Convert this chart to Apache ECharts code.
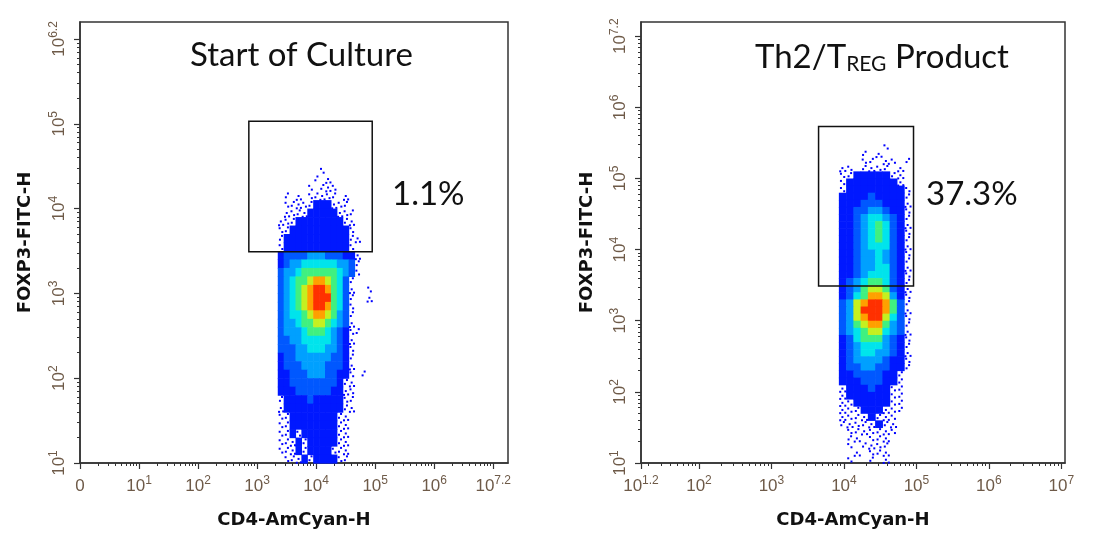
<!DOCTYPE html>
<html>
<head>
<meta charset="utf-8">
<script src="https://cdn.jsdelivr.net/npm/echarts@6/dist/echarts.min.js"></script>
<style>
  html, body { margin: 0; background: #fff; }
  #chart { width: 1105px; height: 534px; }
</style>
</head>
<body>
<div id="chart"></div>
<script>
// axis ticks, in log10 units (decades)
var leftXTicks = [0, 1, 2, 3, 4, 5, 6, 7];
var leftXLabels = [['0', ''], ['10', '1'], ['10', '2'], ['10', '3'], ['10', '4'], ['10', '5'], ['10', '6'], ['10', '7.2']];
var leftYTicks = [1, 2, 3, 4, 5, 6];
var leftYLabels = [['10', '1'], ['10', '2'], ['10', '3'], ['10', '4'], ['10', '5'], ['10', '6.2']];
var rightXTicks = [1.2, 2, 3, 4, 5, 6, 7];
var rightXLabels = [['10', '1.2'], ['10', '2'], ['10', '3'], ['10', '4'], ['10', '5'], ['10', '6'], ['10', '7']];
var rightYTicks = [1, 2, 3, 4, 5, 6, 7];
var rightYLabels = [['10', '1'], ['10', '2'], ['10', '3'], ['10', '4'], ['10', '5'], ['10', '6'], ['10', '7.2']];

// gates: [x1, y1, x2, y2] in decades
var leftGate = [2.86, 3.49, 4.95, 5.03];
var rightGate = [3.65, 3.49, 4.96, 5.73];
var leftPct = '1.1%';
var rightPct = '37.3%';

// density, 0 = empty, 1 = sparse ... 9 = peak
// one string per 0.1 decade of FOXP3 (top row first), one char per 0.1 decade of CD4
var STEP = 0.1;
var leftX0 = 3.35, leftYTop = 4.4;
var leftCloud = [
  '0000000100000000',
  '0000001010000000',
  '0000010111000000',
  '0101011111010000',
  '0111112221110000',
  '0111122222111000',
  '1112222222211000',
  '1122222222221000',
  '1222222222221100',
  '1222222222221000',
  '2333344433322100',
  '2344555555443100',
  '3445666666543100',
  '3456678876531000',
  '3456789986531001',
  '3456789996531001',
  '3456789986531000',
  '3455678876431000',
  '3445667765431000',
  '3444566654321100',
  '3344555554321000',
  '3334455544321000',
  '2334444443321000',
  '2333444433321000',
  '2233344433221010',
  '2233333333211000',
  '2223333332211000',
  '1222232222211000',
  '1222222222211000',
  '1122222222110000',
  '1122222222110000',
  '1121222222110000',
  '1112122222110000',
  '1112122221110000',
  '0111212222110000'
];
var rightX0 = 3.93, rightYTop = 5.4;
var rightCloud = [
  '0000001000',
  '0001010000',
  '0001101101',
  '1101111010',
  '1122222110',
  '1222222210',
  '1222222221',
  '2222322221',
  '2223332221',
  '2233443221',
  '2234554321',
  '2234565321',
  '2234565321',
  '2234565321',
  '2234555321',
  '2234454321',
  '2234454321',
  '2234455321',
  '2234555321',
  '2345665321',
  '2346776321',
  '2356887421',
  '3478998631',
  '3479998631',
  '3478997531',
  '3467886431',
  '3456775431',
  '2356664321',
  '2345554321',
  '2345544321',
  '2344443221',
  '2334433221',
  '2233332210',
  '2223332210',
  '1222322110',
  '1222222110',
  '1122222110',
  '1112221110',
  '1111211100',
  '1111121100',
  '0111111100',
  '0110111000',
  '0101111000',
  '0010111000',
  '0100101000'
];

var levelColors = [null, '#0000ff', '#0018ff', '#0058ff', '#00a0ff', '#00e4ec', '#40f080', '#c4f020', '#ffa000', '#ff3000'];
var labelColor = '#6e5a48';
var frameColor = '#333';
var tickFont = 'Liberation Sans';

function toCells(rows, x0, yTop) {
  var out = [];
  rows.forEach(function (row, r) {
    for (var c = 0; c < row.length; c++) {
      var lv = +row[c];
      if (lv > 0) out.push([x0 + c * STEP, yTop - r * STEP, lv]);
    }
  });
  return out;
}

function minorTicks(min, max) {
  var v = [];
  for (var n = Math.floor(min); n < Math.ceil(max); n++) {
    for (var k = 2; k < 10; k++) {
      var t = n + Math.log10(k);
      if (t > min && t < max) v.push(t);
    }
  }
  return v;
}

function labelFmt(ticks, labels) {
  return function (v) {
    for (var i = 0; i < ticks.length; i++) {
      if (Math.abs(ticks[i] - v) < 1e-6) {
        var l = labels[i];
        return l[1] ? '{b|' + l[0] + '}{s|' + l[1] + '}' : '{b|' + l[0] + '}';
      }
    }
    return '';
  };
}

var rich = {
  b: { fontSize: 17, fontFamily: tickFont, color: labelColor, lineHeight: 22 },
  s: { fontSize: 12, fontFamily: tickFont, color: labelColor, lineHeight: 13, verticalAlign: 'top' }
};

var nameStyle = { fontFamily: 'DejaVu Sans', fontWeight: 'bold', fontSize: 18, color: '#111' };

function axisPair(dim, gridIndex, min, max, ticks, labels, name, nameGap) {
  var major = {
    type: 'value', gridIndex: gridIndex, min: min, max: max,
    position: dim === 'x' ? 'bottom' : 'left',
    name: name, nameLocation: 'middle', nameGap: nameGap, nameTextStyle: nameStyle,
    splitLine: { show: false },
    axisLine: { show: true, lineStyle: { color: frameColor, width: 1.5 } },
    axisTick: { show: true, inside: false, length: 6, customValues: ticks, lineStyle: { color: frameColor, width: 1.2 } },
    axisLabel: { show: true, customValues: ticks, margin: dim === 'x' ? 12 : 10, rotate: dim === 'x' ? 0 : 90,
      formatter: labelFmt(ticks, labels), rich: rich }
  };
  var minor = {
    type: 'value', gridIndex: gridIndex, min: min, max: max,
    position: dim === 'x' ? 'bottom' : 'left',
    splitLine: { show: false },
    axisLine: { show: false },
    axisTick: { show: true, inside: false, length: 3, customValues: minorTicks(min, max), lineStyle: { color: frameColor, width: 1 } },
    axisLabel: { show: false }
  };
  return [major, minor];
}

// sparse cells get a few single dots, placed by index so they don't line up
var dotSpots = [
  [[0.15, 0.2], [0.6, 0.65]],
  [[0.55, 0.1], [0.2, 0.55]],
  [[0.35, 0.4], [0.75, 0.8], [0.05, 0.85]]
];

function renderCell(params, api) {
  var x = api.value(0), y = api.value(1), lv = api.value(2);
  var a = api.coord([x, y + STEP]);
  var b = api.coord([x + STEP, y]);
  var w = b[0] - a[0], h = b[1] - a[1];
  var fill = levelColors[lv];
  if (lv === 1) {
    var spots = dotSpots[params.dataIndex % dotSpots.length];
    return {
      type: 'group',
      children: spots.map(function (s) {
        return { type: 'rect', shape: { x: a[0] + w * s[0], y: a[1] + h * s[1], width: 2, height: 2 }, style: { fill: fill } };
      })
    };
  }
  return { type: 'rect', shape: { x: a[0], y: a[1], width: w + 0.6, height: h + 0.6 }, style: { fill: fill } };
}

function renderGate(params, api) {
  var a = api.coord([api.value(0), api.value(3)]);
  var b = api.coord([api.value(2), api.value(1)]);
  return { type: 'rect', shape: { x: a[0], y: a[1], width: b[0] - a[0], height: b[1] - a[1] },
    style: { fill: 'none', stroke: '#111', lineWidth: 1.5 } };
}

var xAxes = axisPair('x', 0, 0, 7.25, leftXTicks, leftXLabels, 'CD4-AmCyan-H', 48)
  .concat(axisPair('x', 1, 1.2, 7.05, rightXTicks, rightXLabels, 'CD4-AmCyan-H', 48));
var yAxes = axisPair('y', 0, 1, 6.2, leftYTicks, leftYLabels, 'FOXP3-FITC-H', 46)
  .concat(axisPair('y', 1, 1, 7.2, rightYTicks, rightYLabels, 'FOXP3-FITC-H', 45));

var titleStyle = { fontFamily: 'Lato', fontSize: 33, fontWeight: 'normal', color: '#111' };

var chart = echarts.init(document.getElementById('chart'));
chart.setOption({
  animation: false,
  backgroundColor: '#fff',
  grid: [
    { left: 80, right: 597, top: 22, bottom: 70, show: true, borderColor: frameColor, borderWidth: 1.5 },
    { left: 641, right: 40, top: 22, bottom: 70, show: true, borderColor: frameColor, borderWidth: 1.5 }
  ],
  title: [
    { text: 'Start of Culture', left: 185, top: 34, textStyle: titleStyle },
    { text: 'Th2/T{sub|REG} Product', left: 750, top: 34,
      textStyle: Object.assign({}, titleStyle, {
        rich: { sub: { fontFamily: 'Lato', fontSize: 21, color: '#111', verticalAlign: 'bottom', padding: [15, 0, 0, 0] } } }) },
    { text: leftPct, left: 387, top: 173, textStyle: titleStyle },
    { text: rightPct, left: 921, top: 173, textStyle: titleStyle }
  ],
  xAxis: xAxes,
  yAxis: yAxes,
  series: [
    { type: 'custom', xAxisIndex: 0, yAxisIndex: 0, renderItem: renderCell, data: toCells(leftCloud, leftX0, leftYTop), silent: true },
    { type: 'custom', xAxisIndex: 2, yAxisIndex: 2, renderItem: renderCell, data: toCells(rightCloud, rightX0, rightYTop), silent: true },
    { type: 'custom', xAxisIndex: 0, yAxisIndex: 0, renderItem: renderGate, data: [leftGate], z: 5, silent: true },
    { type: 'custom', xAxisIndex: 2, yAxisIndex: 2, renderItem: renderGate, data: [rightGate], z: 5, silent: true }
  ]
});
</script>
</body>
</html>
